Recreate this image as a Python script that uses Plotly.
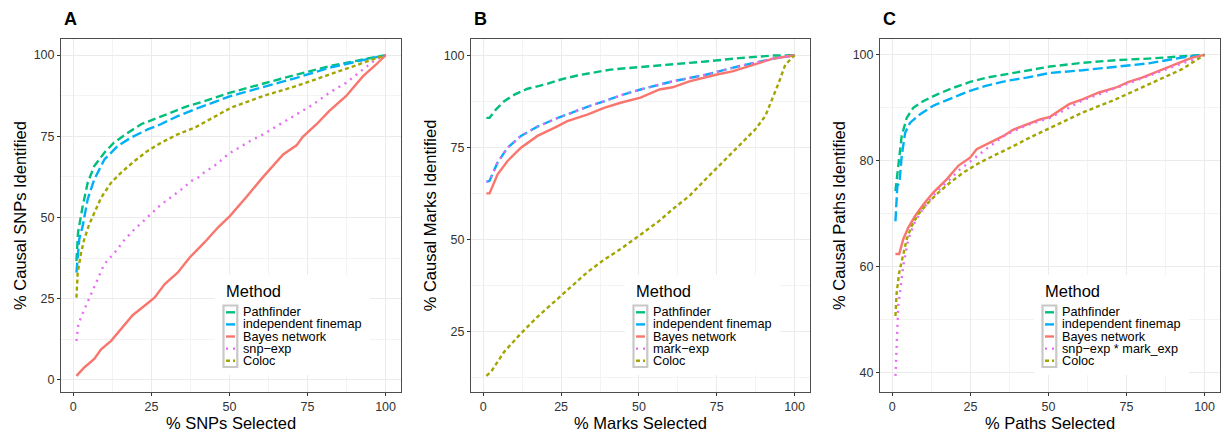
import plotly.graph_objects as go

# ---------------- data ----------------
methods = ["Pathfinder", "independent finemap", "Bayes network", "exp", "Coloc"]
legend_labels_A = ["Pathfinder", "independent finemap", "Bayes network", "snp\u2212exp", "Coloc"]
legend_labels_B = ["Pathfinder", "independent finemap", "Bayes network", "mark\u2212exp", "Coloc"]
legend_labels_C = ["Pathfinder", "independent finemap", "Bayes network", "snp\u2212exp * mark_exp", "Coloc"]
panel_letters = ["A", "B", "C"]
x_titles = ["% SNPs Selected", "% Marks Selected", "% Paths Selected"]
y_titles = ["% Causal SNPs Identified", "% Causal Marks Identified", "% Causal Paths Identified"]
x_ticks = [0, 25, 50, 75, 100]
y_ticks_A = [0, 25, 50, 75, 100]
y_ticks_B = [25, 50, 75, 100]
y_ticks_C = [40, 60, 80, 100]

# Panel A
A_pathfinder_x = [1, 1.5, 3, 4.6, 6.7, 10, 13, 17.5, 21.7, 26, 31.3, 36.6, 42, 50.5, 60.4, 71.5, 82, 92.8, 100]
A_pathfinder_y = [36.6, 45.3, 53.5, 60.7, 65.8, 70, 73, 76.1, 78.7, 80.2, 82.3, 84.3, 85.8, 88.5, 91.2, 94, 96.6, 98.7, 100]
A_finemap_x = [1, 1.9, 3, 4.6, 6.7, 10, 14.2, 18.5, 23.8, 28, 33.4, 38.8, 50.5, 60.8, 71.5, 82, 92.8, 100]
A_finemap_y = [33, 43.3, 47.4, 55.6, 61.7, 67.9, 72, 74.6, 77.1, 78.7, 81.2, 83.3, 87.4, 90.2, 93, 96.1, 98.5, 100]
A_bayes_x = [1, 3.5, 6.7, 8.9, 12.1, 16.3, 19, 22.8, 26, 29.2, 33.4, 37.2, 42, 46.3, 50.2, 55.5, 60.8, 67.2, 71.5, 73.5, 77.9, 82, 87.4, 92.8, 97, 100]
A_bayes_y = [1.2, 3.8, 6.4, 9.4, 12, 16.6, 19.9, 22.8, 25.3, 29.4, 33, 37.6, 42.3, 46.9, 50.5, 56.4, 62.5, 69.4, 72.2, 74.8, 78.7, 82.8, 87.4, 93.5, 97.1, 100]
A_snpexp_x = [1, 1.6, 3, 5.3, 7.6, 9.9, 12.3, 14, 15.8, 19.6, 21.9, 24, 26, 28.1, 30.4, 32.9, 35.4, 37.7, 40, 42.2, 44.7, 47.1, 49.5, 51.3, 56.6, 60.8, 66.2, 71.5, 76.8, 82, 87.4, 92.8, 97, 100]
A_snpexp_y = [12, 17.1, 20.5, 25.5, 30.8, 35.6, 38.2, 40, 42.5, 46.4, 48.4, 50.3, 52, 54, 55.6, 57.4, 59.2, 61.2, 62.3, 64.1, 65.5, 67.4, 69.4, 70.5, 73.5, 75.6, 78.7, 81.7, 84.8, 88.4, 91.5, 95.6, 98.7, 100]
A_coloc_x = [1, 1.4, 2.5, 3.5, 5.1, 6.7, 8.9, 12.1, 15.3, 19.6, 23.8, 28.1, 33.4, 38.8, 44.1, 50.5, 60.8, 71.5, 82, 92.8, 100]
A_coloc_y = [25.3, 33, 39.2, 43.3, 47.9, 51.5, 56.1, 60.7, 63.8, 67.4, 70.5, 73, 75.6, 77.6, 80.5, 83.8, 87.4, 90.5, 94, 97.6, 100]

# Panel B
B_pathfinder_x = [1, 2, 4.1, 6.7, 10, 14.2, 19.6, 24.9, 30.2, 35.6, 40.9, 46.3, 50.5, 60.8, 71.5, 82.1, 92.8, 100]
B_pathfinder_y = [83, 83, 85.3, 87.5, 89.3, 90.9, 92, 93.4, 94.5, 95.4, 96.1, 96.5, 96.8, 97.4, 98.3, 99.2, 99.9, 100]
B_finemap_x = [1, 2, 4.6, 7.8, 12.1, 17.4, 22.8, 28.1, 33.4, 38.8, 44.1, 50.5, 60.8, 71.5, 82.1, 92.8, 100]
B_finemap_y = [65.6, 65.9, 70.9, 74.9, 78.1, 80.6, 82.6, 84.4, 86, 87.5, 89.1, 90.7, 92.9, 94.7, 97, 99, 100]
B_bayes_x = [1, 2, 4.6, 7.8, 12.1, 17.4, 22.8, 27, 33.4, 38.8, 44.1, 50.5, 56.6, 60.8, 66.2, 74.7, 80, 85.3, 92.8, 100]
B_bayes_y = [62.5, 62.5, 67.7, 71.3, 74.9, 78.1, 80.3, 82.1, 83.9, 85.7, 87.1, 88.5, 90.7, 91.3, 92.9, 94.7, 95.6, 97, 99, 100]
B_markexp_x = [1, 2, 4.6, 7.8, 12.1, 17.4, 22.8, 28.1, 33.4, 38.8, 44.1, 50.5, 60.8, 71.5, 82.1, 92.8, 100]
B_markexp_y = [65.6, 65.9, 70.9, 74.9, 78.1, 80.6, 82.6, 84.4, 86, 87.5, 89.1, 90.7, 92.9, 94.7, 97, 99, 100]
B_coloc_x = [1, 2.5, 6.7, 12.1, 17.4, 23.8, 28.1, 33.4, 38.8, 44.1, 50.5, 56.6, 60.8, 66.2, 71.5, 76.8, 82.1, 87.4, 90.6, 92.8, 94.9, 97, 100]
B_coloc_y = [13, 14.1, 19.5, 24.5, 29, 33.9, 37.1, 41.1, 44.5, 47.4, 51.3, 55.1, 58.2, 61.8, 66.4, 70.9, 75.4, 79.9, 83.5, 88, 92.5, 97.4, 100]

# Panel C
C_pathfinder_x = [1, 1.4, 2, 3, 4.6, 6.7, 10, 14.2, 19.6, 24.9, 30.2, 36.6, 43, 50.5, 60.9, 71.5, 82, 92.8, 100]
C_pathfinder_y = [74.3, 76.5, 80.3, 84.7, 88.1, 90, 91.3, 92.5, 93.8, 94.9, 95.7, 96.4, 97.1, 97.8, 98.5, 99, 99.3, 99.8, 100]
C_finemap_x = [1, 1.6, 2.3, 3, 4.1, 5.7, 8.9, 13.1, 18.5, 23.8, 30.2, 36.6, 43, 50.5, 60.9, 71.5, 82.1, 92.8, 100]
C_finemap_y = [68.6, 75.2, 76, 80.9, 85.3, 87.2, 88.8, 90.4, 91.7, 93, 94.2, 95.1, 95.7, 96.6, 97.1, 97.8, 98.4, 99.5, 100]
C_bayes_x = [1, 2.2, 3.5, 5.1, 7.3, 10, 13.1, 17.4, 21.2, 24.9, 27, 31.3, 35.6, 38.8, 43, 47.3, 50.5, 56.6, 60.9, 66.2, 71.5, 75.7, 80, 85.3, 90.6, 96, 100]
C_bayes_y = [62.4, 62.4, 65.2, 67.4, 69.6, 71.8, 74, 76.5, 79.1, 80.6, 82.2, 83.4, 84.7, 85.9, 86.9, 87.8, 88.3, 90.7, 91.6, 92.9, 93.8, 94.9, 95.7, 96.9, 98.2, 99.5, 100]
C_snpmark_x = [1, 1.4, 1.9, 2.7, 3.5, 5.1, 7.3, 10, 13.1, 17.4, 21.7, 25.9, 31.3, 36.6, 43, 50.5, 60.9, 71.5, 80, 85.3, 92.8, 96, 100]
C_snpmark_y = [39.4, 46.3, 52.6, 56.4, 60.2, 65.2, 68.6, 71.1, 73.4, 75.9, 78.4, 80.3, 82.8, 85, 86.7, 88.1, 91.4, 93.7, 95.6, 96.8, 98.4, 99, 100]
C_coloc_x = [1, 1.4, 2.2, 3.3, 4.6, 6.2, 8.3, 11, 14.2, 18.5, 22.8, 28.1, 33.4, 38.8, 44.1, 50.5, 60.9, 71.5, 82.1, 92.8, 100]
C_coloc_y = [50.7, 55.1, 58.9, 62, 65.2, 67.7, 69.9, 71.8, 73.7, 75.9, 77.8, 79.7, 81.2, 82.8, 84.4, 86.2, 89.1, 91.6, 94.4, 97.3, 100]

# ---------------- styles ----------------
colors = ["#00BF7D", "#00B0F6", "#F8766D", "#E76BF3", "#A3A500"]
dashes = ["8px,4px", "10px,4px", "solid", "2px,5px", "4px,3px"]
FONT = "Liberation Sans, Arial, Helvetica, sans-serif"

W, H = 1226, 432
plot_left = [61, 471, 880]
plot_right = [401, 810, 1220]
plot_top, plot_bottom = 39, 392
y_ranges = [[-3.75, 104.95], [8.6, 104.4], [36.35, 103.0]]
y_dticks = [25, 25, 20]
y_tickvals = [y_ticks_A, y_ticks_B, y_ticks_C]

panels = [
    [(A_pathfinder_x, A_pathfinder_y), (A_finemap_x, A_finemap_y), (A_bayes_x, A_bayes_y),
     (A_snpexp_x, A_snpexp_y), (A_coloc_x, A_coloc_y)],
    [(B_pathfinder_x, B_pathfinder_y), (B_finemap_x, B_finemap_y), (B_bayes_x, B_bayes_y),
     (B_markexp_x, B_markexp_y), (B_coloc_x, B_coloc_y)],
    [(C_pathfinder_x, C_pathfinder_y), (C_finemap_x, C_finemap_y), (C_bayes_x, C_bayes_y),
     (C_snpmark_x, C_snpmark_y), (C_coloc_x, C_coloc_y)],
]
legend_labels = [legend_labels_A, legend_labels_B, legend_labels_C]

fig = go.Figure()
layout = dict(
    width=W, height=H, margin=dict(l=0, r=0, t=0, b=0),
    paper_bgcolor="white", plot_bgcolor="white", showlegend=False,
    font=dict(family=FONT, color="black"),
)
shapes, annotations = [], []

for p in range(3):
    sfx = "" if p == 0 else str(p + 1)
    xa, ya = "x" + sfx, "y" + sfx
    for m in range(5):
        xs, ys = panels[p][m]
        fig.add_trace(go.Scatter(
            x=xs, y=ys, mode="lines", name=legend_labels[p][m], xaxis=xa, yaxis=ya,
            line=dict(color=colors[m], width=2.4, dash=dashes[m]), showlegend=False,
        ))
    axis_common = dict(
        showline=True, mirror=True, linecolor="#4d4d4d", linewidth=1,
        ticks="outside", ticklen=3, tickwidth=1, tickcolor="#333333",
        tickfont=dict(size=12.5, color="#333333", family=FONT),
        showgrid=True, gridcolor="#EBEBEB", gridwidth=1.2, zeroline=False,
    )
    layout["xaxis" + sfx] = dict(
        axis_common, domain=[plot_left[p] / W, plot_right[p] / W], anchor=ya,
        range=[-3.95, 104.95], tickmode="array", tickvals=x_ticks,
        minor=dict(tickmode="linear", tick0=12.5, dtick=25, showgrid=True, gridcolor="#F3F3F3", gridwidth=0.8, ticks=""),
        title=dict(text=x_titles[p], font=dict(size=16.5, color="black"), standoff=3),
    )
    layout["yaxis" + sfx] = dict(
        axis_common, domain=[1 - plot_bottom / H, 1 - plot_top / H], anchor=xa,
        range=y_ranges[p], tickmode="array", tickvals=y_tickvals[p],
        minor=dict(tickmode="linear", tick0=y_dticks[p] / 2, dtick=y_dticks[p], showgrid=True, gridcolor="#F3F3F3", gridwidth=0.8, ticks=""),
        title=dict(text=y_titles[p], font=dict(size=16.5, color="black"), standoff=2),
    )

    # panel letter
    annotations.append(dict(
        text="<b>%s</b>" % panel_letters[p], xref="paper", yref="paper",
        x=(plot_left[p] + 1) / W, y=1 - 19 / H, xanchor="left", yanchor="middle",
        showarrow=False, font=dict(size=18, color="black", family=FONT),
    ))

    # legend (ggplot style, inside the panel)
    pw = plot_right[p] - plot_left[p]
    ph = plot_bottom - plot_top
    xd, yd = xa + " domain", ya + " domain"
    fx = lambda px: px / pw
    fy = lambda py: 1 - (py - plot_top) / ph
    shapes.append(dict(type="rect", xref=xd, yref=yd, x0=fx(154), x1=fx(309), y0=fy(375), y1=fy(275),
                       fillcolor="white", line=dict(width=0), layer="above"))
    annotations.append(dict(text="Method", xref=xd, yref=yd, x=fx(163), y=fy(291),
                            xanchor="left", yanchor="middle", showarrow=False,
                            font=dict(size=16.5, color="black", family=FONT)))
    item_y = [312.3, 324.4, 336.5, 348.6, 360.7]
    shapes.append(dict(type="rect", xref=xd, yref=yd, x0=fx(162.5), x1=fx(176.3), y0=fy(367), y1=fy(305.5),
                       fillcolor="white", line=dict(color="#C8C8C8", width=2.2), layer="above"))
    for m in range(5):
        shapes.append(dict(type="line", xref=xd, yref=yd, x0=fx(165), x1=fx(174), y0=fy(item_y[m]), y1=fy(item_y[m]),
                           line=dict(color=colors[m], width=2.4, dash=dashes[m] if m in (3, 4) else "solid"), layer="above"))
        annotations.append(dict(text=legend_labels[p][m], xref=xd, yref=yd, x=fx(180), y=fy(item_y[m]),
                                xanchor="left", yanchor="middle", showarrow=False,
                                font=dict(size=12.7, color="black", family=FONT)))

layout["shapes"] = shapes
layout["annotations"] = annotations
fig.update_layout(**layout)
fig.write_html("out.html")
